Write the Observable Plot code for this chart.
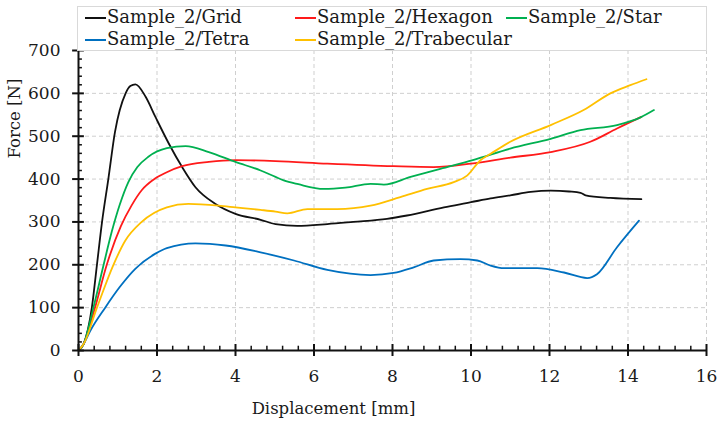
<!DOCTYPE html>
<html>
<head>
<meta charset="utf-8">
<script src="https://cdn.jsdelivr.net/npm/d3@7"></script>
<script src="https://cdn.jsdelivr.net/npm/@observablehq/plot@0.6"></script>
<style>
  body { margin: 0; background: #fff; font-family: "DejaVu Serif", serif; }
  #chart { position: relative; width: 720px; height: 425px; }
  #legend { position: absolute; left: 77px; top: 6px; width: 628px; height: 43px; border: 1px solid #d9d9d9; background: #fff; }
  .item { position: absolute; font-size: 18px; line-height: 20px; color: #1a1a1a; white-space: nowrap; }
  .item i { display: inline-block; width: 21px; height: 2px; vertical-align: middle; margin-right: 1px; }
</style>
</head>
<body>
<div id="chart"><div id="legend"></div></div>
<script>
// series names + colours
const seriesNames = ["Sample_2/Grid", "Sample_2/Hexagon", "Sample_2/Star", "Sample_2/Tetra", "Sample_2/Trabecular"];
const seriesColors = ["#111111", "#ff1a1a", "#00b050", "#0070c0", "#ffc000"];

// displacement [mm] / force [N]
const gridX = [0, 0.13, 0.34, 0.47, 0.6, 0.76, 0.93, 1.2, 1.32, 1.45, 1.71, 1.96, 2.3, 2.64, 2.98, 3.49, 4.0, 4.64, 5.02, 5.57, 6.34, 7.0, 7.86, 8.37, 9.31, 10.0, 10.5, 11.0, 11.52, 12.03, 12.5, 12.79, 12.92, 13.55, 14.34];
const gridF = [0, 15, 100, 200, 300, 400, 510, 600, 617, 621, 592, 545, 483, 428, 381, 342, 319, 305, 295, 291, 295, 300, 307, 315, 334, 346, 355, 362, 370, 373, 371, 368, 362, 356, 353];

const hexX = [0, 0.13, 0.42, 0.72, 1.08, 1.35, 1.62, 1.9, 2.25, 2.64, 3.32, 4.0, 5.02, 6.34, 8.03, 9.05, 10.0, 11.0, 12.03, 13.04, 13.72, 14.34];
const hexF = [0, 15, 100, 200, 290, 338, 375, 398, 416, 430, 440, 444, 442, 436, 430, 428, 436, 450, 463, 487, 518, 545];

const starX = [0, 0.13, 0.38, 0.64, 0.85, 1.05, 1.27, 1.5, 1.78, 2.25, 2.73, 3.32, 4.0, 4.64, 5.02, 5.23, 5.6, 6.25, 6.8, 7.44, 7.78, 8.46, 9.22, 10.07, 11.0, 12.03, 12.79, 13.72, 14.32, 14.66];
const starF = [0, 15, 100, 200, 278, 340, 393, 428, 452, 472, 477, 463, 440, 420, 405, 397, 388, 377, 380, 389, 387, 405, 424, 445, 471, 494, 514, 526, 544, 561];

const tetraX = [0, 0.13, 0.3, 0.68, 1.05, 1.44, 1.96, 2.25, 2.98, 3.75, 4.64, 5.49, 6.34, 7.44, 8.03, 8.54, 9.05, 9.73, 10.16, 10.5, 10.84, 11.69, 12.37, 12.96, 13.21, 13.72, 14.28];
const tetraF = [0, 15, 46, 100, 148, 190, 226, 239, 250, 245, 229, 210, 188, 176, 181, 194, 210, 213, 210, 198, 192, 192, 182, 169, 178, 241, 303];

const trabX = [0, 0.13, 0.47, 0.89, 1.19, 1.61, 2.25, 2.8, 3.57, 4.0, 4.64, 5.02, 5.32, 5.83, 6.59, 7.44, 8.2, 8.88, 9.56, 9.9, 10.24, 10.5, 11.0, 12.03, 12.87, 13.55, 14.06, 14.47];
const trabF = [0, 15, 100, 200, 256, 300, 334, 342, 338, 334, 328, 324, 320, 330, 330, 338, 358, 377, 393, 408, 444, 459, 487, 526, 561, 600, 619, 633];

const xTicks = d3.range(0, 17, 2);
const yTicks = d3.range(0, 701, 100);
const xMinor = d3.range(0, 16.01, 0.4).filter(v => Math.abs(v / 2 - Math.round(v / 2)) > 0.01);
const yMinor = d3.range(0, 701, 20).filter(v => v % 100 !== 0);

const seriesX = [gridX, hexX, starX, tetraX, trabX];
const seriesF = [gridF, hexF, starF, tetraF, trabF];

const rows = [];
seriesNames.forEach((name, i) => {
  seriesX[i].forEach((x, j) => rows.push({series: name, x: x, f: seriesF[i][j]}));
});

const plot = Plot.plot({
  width: 720,
  height: 425,
  marginLeft: 78,
  marginRight: 14,
  marginTop: 50,
  marginBottom: 75,
  style: {fontFamily: "DejaVu Serif, serif", fontSize: "17px", color: "#1a1a1a", background: "white"},
  x: {domain: [0, 16]},
  y: {domain: [0, 700]},
  color: {domain: seriesNames, range: seriesColors},
  marks: [
    Plot.gridX(xTicks.filter(d => d > 0), {stroke: "#cfcfcf", strokeOpacity: 1, strokeDasharray: "4,3"}),
    Plot.gridY(yTicks.filter(d => d > 0), {stroke: "#cfcfcf", strokeOpacity: 1, strokeDasharray: "4,3"}),
    Plot.line(rows, {x: "x", y: "f", z: "series", stroke: "series", curve: "monotone-x", strokeWidth: 1.8}),
    Plot.ruleY([0], {stroke: "#111", strokeWidth: 2}),
    Plot.ruleX([0], {stroke: "#111", strokeWidth: 2}),
    Plot.ruleX(xTicks, {y1: -14, y2: 14, stroke: "#111", strokeWidth: 2}),
    Plot.ruleX(xMinor, {y1: 0, y2: 10, stroke: "#111", strokeWidth: 1.5}),
    Plot.ruleY(yTicks, {x1: -0.15, x2: 0.15, stroke: "#111", strokeWidth: 2}),
    Plot.ruleY(yMinor, {x1: 0, x2: 0.1, stroke: "#111", strokeWidth: 1.5}),
    Plot.axisX(xTicks, {tickSize: 0, tickPadding: 19, label: null, fontSize: 17}),
    Plot.axisY(yTicks, {tickSize: 0, tickPadding: 18, label: null, fontSize: 17}),
    Plot.text(["Displacement [mm]"], {frameAnchor: "bottom", dx: -59, dy: 58, lineAnchor: "middle", fontSize: 16.5}),
    Plot.text(["Force [N]"], {frameAnchor: "left", rotate: -90, dx: -64, dy: -42, fontSize: 16.5})
  ]
});

d3.select("#chart").insert(() => plot, "#legend");

// legend: 3 columns, 2 rows
const legendLeft = [7, 217, 428];
const legendTop = [0, 22];
seriesNames.forEach((name, i) => {
  const item = d3.select("#legend").append("div")
    .attr("class", "item")
    .style("left", legendLeft[i % 3] + "px")
    .style("top", legendTop[Math.floor(i / 3)] + "px");
  item.append("i").style("background", seriesColors[i]);
  item.append("span").text(name);
});
</script>
</body>
</html>
